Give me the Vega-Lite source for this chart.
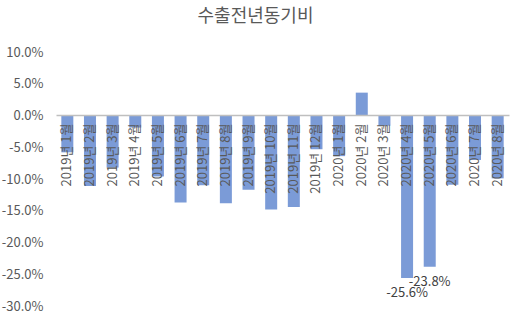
{
  "$schema": "https://vega.github.io/schema/vega-lite/v6.json",
  "width": 453,
  "height": 254,
  "autosize": {"type": "none"},
  "padding": {"left": 56, "top": 52, "right": 10, "bottom": 10},
  "background": "white",
  "title": {
    "text": "수출전년동기비",
    "font": "Noto Sans CJK KR",
    "fontSize": 18,
    "fontWeight": "normal",
    "color": "#595959",
    "anchor": "middle",
    "dx": -27,
    "offset": 20
  },
  "config": {
    "view": {"stroke": null},
    "axis": {"labelFont": "Noto Sans CJK KR", "labelColor": "#595959", "labelFontSize": 13}
  },
  "data": {
    "values": [
      {"month": "2019년 1월", "value": -0.058},
      {"month": "2019년 2월", "value": -0.111},
      {"month": "2019년 3월", "value": -0.082},
      {"month": "2019년 4월", "value": -0.019},
      {"month": "2019년 5월", "value": -0.096},
      {"month": "2019년 6월", "value": -0.137},
      {"month": "2019년 7월", "value": -0.110},
      {"month": "2019년 8월", "value": -0.138},
      {"month": "2019년 9월", "value": -0.117},
      {"month": "2019년 10월", "value": -0.148},
      {"month": "2019년 11월", "value": -0.144},
      {"month": "2019년 12월", "value": -0.053},
      {"month": "2020년 1월", "value": -0.064},
      {"month": "2020년 2월", "value": 0.036},
      {"month": "2020년 3월", "value": -0.016},
      {"month": "2020년 4월", "value": -0.256, "lab": "-25.6%"},
      {"month": "2020년 5월", "value": -0.238, "lab": "-23.8%"},
      {"month": "2020년 6월", "value": -0.109},
      {"month": "2020년 7월", "value": -0.070},
      {"month": "2020년 8월", "value": -0.099}
    ]
  },
  "encoding": {
    "x": {
      "field": "month",
      "type": "nominal",
      "sort": null,
      "scale": {"paddingInner": 0.47, "paddingOuter": 0.235},
      "axis": {
        "title": null,
        "orient": "bottom",
        "offset": -191,
        "labelAngle": -90,
        "labelPadding": 8,
        "ticks": false,
        "domainColor": "#BFBFBF",
        "domainWidth": 1.3,
        "zindex": 1
      }
    },
    "y": {
      "field": "value",
      "type": "quantitative",
      "scale": {"domain": [-0.3, 0.1], "nice": false},
      "axis": {
        "title": null,
        "values": [-0.3, -0.25, -0.2, -0.15, -0.1, -0.05, 0, 0.05, 0.1],
        "format": ".1%",
        "labelExpr": "replace(datum.label, '−', '-')",
        "domain": false,
        "ticks": false,
        "grid": false,
        "labelPadding": 13
      }
    }
  },
  "layer": [
    {"mark": {"type": "bar", "color": "#7B9BD7"}},
    {
      "transform": [{"filter": "isValid(datum.lab)"}],
      "mark": {"type": "text", "font": "Noto Sans CJK KR", "fontSize": 13, "color": "#404040", "baseline": "middle", "dy": 15},
      "encoding": {"text": {"field": "lab"}}
    }
  ]
}
